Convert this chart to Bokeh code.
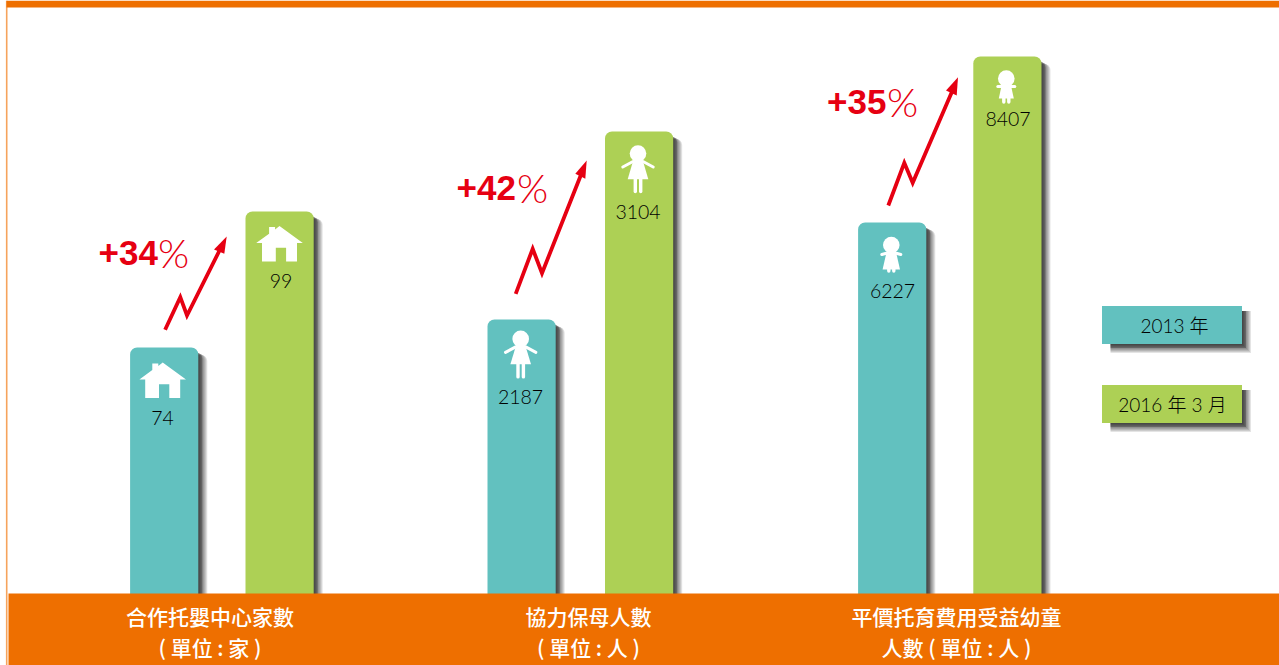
from bokeh.plotting import figure
from bokeh.models import Range1d
from bokeh.core.properties import value
from bokeh.embed import file_html
from bokeh.resources import INLINE

# ---- values ----
group_lines_1 = ["合作托嬰中心家數", "協力保母人數", "平價托育費用受益幼童"]
group_lines_2 = ["( 單位 : 家 )", "( 單位 : 人 )", "人數 ( 單位 : 人 )"]
values_2013 = [74, 2187, 6227]
values_2016 = [99, 3104, 8407]
# drawn height of each column: every group has its own scale in the picture
drawn_2013 = [246, 274, 371]
drawn_2016 = [382, 462, 537]
growth = ["+34", "+42", "+35"]
legend_labels = ["2013 年", "2016 年 3 月"]

# ---- layout and style ----
W, H = 1279, 665
BASE = 593
TEAL, GREEN, ORANGE, RED = "#62C1BF", "#ADD055", "#EE6F00", "#E60012"
NUM_FONT = value("'Lato Light', 'Noto Sans CJK TC Light', 'Noto Sans CJK TC'")
CJK_FONT = value("'Noto Sans CJK TC Medium', 'Noto Sans CJK TC'")
SHADOW_STEPS = [1, 2, 3, 4, 4, 4, 5, 6, 7, 8, 9]

def Y(py):
    return BASE - py

p = figure(width=W, height=H, output_backend="svg", toolbar_location=None,
           x_range=Range1d(0, W), y_range=Range1d(BASE - H, BASE),
           min_border=0, background_fill_color="white", border_fill_color="white")
p.axis.visible = False
p.grid.visible = False
p.outline_line_color = None
p.styles = {"position": "absolute", "left": "0px", "top": "0px"}


def shadow(l, r, top, bottom, radius=0):
    for k in SHADOW_STEPS:
        p.quad(left=[l + 4], right=[r + k], top=[top - 7 + (8 - k) * 0.5],
               bottom=[bottom], fill_color="black", fill_alpha=0.105,
               line_color=None, border_radius=radius)


def house(cx, apex):
    a = Y(apex)
    xs = [cx, cx + 23.3, cx + 17.5, cx + 17.5, cx + 6.6, cx + 6.6, cx - 3.7, cx - 3.7,
          cx - 17.5, cx - 17.5, cx - 23.3, cx - 10.4, cx - 10.4, cx - 4.4, cx - 4.4]
    ys = [a, a - 17, a - 17, a - 35.4, a - 35.4, a - 21.7, a - 21.7, a - 35.4,
          a - 35.4, a - 17, a - 17, a - 7.6, a - 1, a - 1, a - 3.4]
    p.patch(xs, ys, fill_color="white", line_color=None)


def girl(cx, head, arm_dx, arm_dy, sh_dx, hem, leg_end, hem_dx, leg_dx):
    h = Y(head)
    p.scatter([cx], [h], size=16.6, marker="circle", fill_color="white", line_color=None)
    p.patch([cx - 4.5, cx + 4.5, cx + hem_dx, cx - hem_dx],
            [h - 6, h - 6, h - hem, h - hem], fill_color="white", line_color=None)
    for s in (-1, 1):
        p.line([cx + s * sh_dx, cx + s * arm_dx], [h - 8, h - arm_dy], line_color="white",
               line_width=3, line_cap="round")
        p.line([cx + s * leg_dx, cx + s * leg_dx], [h - hem + 1, h - leg_end], line_color="white",
               line_width=3.4, line_cap="round")


def arrow(tail, peak, valley, neck, tip, b1, b2):
    p.line([tail[0], peak[0], valley[0], neck[0]],
           [Y(tail[1]), Y(peak[1]), Y(valley[1]), Y(neck[1])],
           line_color=RED, line_width=3.8, line_join="miter")
    p.patch([tip[0], b1[0], b2[0]], [Y(tip[1]), Y(b1[1]), Y(b2[1])],
            fill_color=RED, line_color=None)


# frame
p.quad(left=[5.4], right=[7], top=[BASE], bottom=[Y(H)], fill_color="#F6A35C", line_color=None)
p.quad(left=[6], right=[W], top=[BASE], bottom=[Y(7)], fill_color=ORANGE, line_color=None)

# columns
lefts_2013 = [129.6, 487, 857.6]
lefts_2016 = [245, 604.5, 972.8]
BAR_W = 68.2
for l, h in list(zip(lefts_2013, drawn_2013)) + list(zip(lefts_2016, drawn_2016)):
    shadow(l, l + BAR_W, h, -10, radius=6)
p.quad(left=lefts_2013, right=[l + BAR_W for l in lefts_2013], top=drawn_2013, bottom=-10,
       fill_color=TEAL, line_color=None, border_radius=7)
p.quad(left=lefts_2016, right=[l + BAR_W for l in lefts_2016], top=drawn_2016, bottom=-10,
       fill_color=GREEN, line_color=None, border_radius=7)

# bottom band
p.quad(left=[8], right=[W], top=[0], bottom=[BASE - H], fill_color=ORANGE, line_color=None)

# icons
house(162.2, 362)
house(279, 225.6)
girl(520.2, 338.4, 15.2, 13.5, 5, 25.3, 38, 10.3, 2.7)
girl(637.5, 153, 15.2, 13.5, 5, 25.7, 38, 10.3, 2.7)
girl(890.8, 244.5, 9.5, 9.5, 4, 24.5, 26, 8.7, 2.5)
girl(1005.8, 78, 8.5, 8, 4, 20, 23.5, 7.5, 2.5)

# values on the columns
num_x = [162, 520, 892, 280.5, 637.5, 1007.5]
num_y = [417.7, 396.7, 290.5, 280.5, 211.7, 118]
p.text(x=num_x, y=[Y(v) for v in num_y], text=[str(v) for v in values_2013 + values_2016],
       text_font=NUM_FONT, text_font_size="19.5px", text_color="#000000",
       text_align="center", text_baseline="middle")

# growth labels and arrows
gx = [98, 456, 826.5]
gy = [252, 187, 101]
px = [157.5, 516.5, 886.5]
p.text(x=gx, y=[Y(v) for v in gy], text=growth, text_font=value("Liberation Sans"),
       text_font_style="bold", text_font_size="35px", text_color=RED,
       text_align="left", text_baseline="middle")
p.text(x=px, y=[Y(v) for v in gy], text=["%"] * 3, text_font=value("'Lato Light', 'Liberation Sans'"),
       text_font_size="40px", text_color=RED, text_align="left", text_baseline="middle")
arrow((164.6, 329.3), (179.8, 296.7), (186.5, 315), (220, 248), (226.2, 236), (213.5, 249), (223.8, 253.3))
arrow((515.2, 293.3), (532.2, 248.3), (541.5, 272.7), (581, 173), (586.2, 160), (574.8, 173.3), (584.8, 178.3))
arrow((887.8, 205), (903.8, 162.3), (912.2, 182.3), (952, 90), (957.5, 76.7), (945.5, 90), (956.2, 95))

# legend
leg_y = [(305.5, 343.5), (384.5, 422.5)]
for (t, b), c, lab, lx in zip(leg_y, [TEAL, GREEN], legend_labels, [1174, 1172]):
    for k in SHADOW_STEPS:
        p.quad(left=[1102 + 8], right=[1241.5 + k], top=[Y(t + 5)], bottom=[Y(b + k)],
               fill_color="black", fill_alpha=0.105, line_color=None)
    p.quad(left=[1101.5], right=[1241.5], top=[Y(t)], bottom=[Y(b)], fill_color=c, line_color=None)
    p.text(x=[lx], y=[Y((t + b) / 2)], text=[lab], text_font=NUM_FONT, text_font_size="19px",
           text_color="#000000", text_align="center", text_baseline="middle")

# group captions
cap_x = [209.5, 588, 956]
p.text(x=cap_x, y=[Y(615.5)] * 3, text=group_lines_1, text_font=CJK_FONT, text_font_size="21px",
       text_color="white", text_align="center", text_baseline="middle")
p.text(x=cap_x, y=[Y(646)] * 3, text=group_lines_2, text_font=CJK_FONT, text_font_size="21px",
       text_color="white", text_align="center", text_baseline="middle")

open("out.html", "w").write(file_html(p, INLINE))
